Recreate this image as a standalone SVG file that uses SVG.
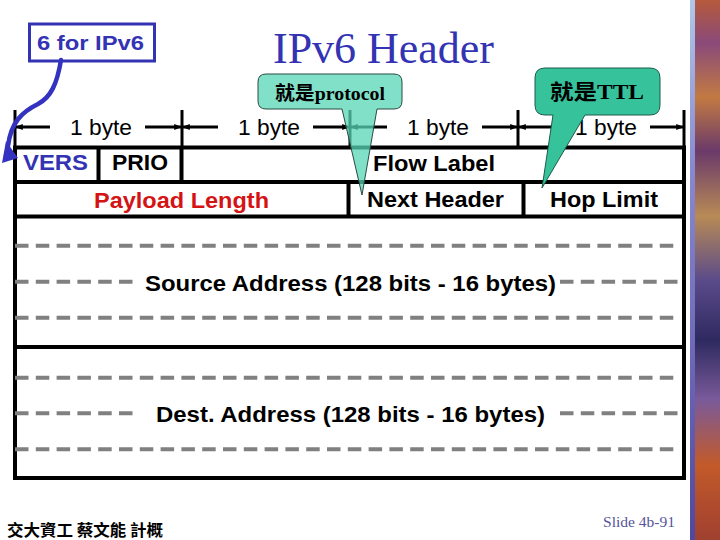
<svg xmlns="http://www.w3.org/2000/svg" width="720" height="540" viewBox="0 0 720 540">
<style>
.sans{font-family:"Liberation Sans",Arial,sans-serif}
.b{font-weight:bold}
.lbl{font-family:"Liberation Sans",Arial,sans-serif;font-weight:bold;font-size:22px;fill:#000}
.byte{font-family:"Liberation Sans",Arial,sans-serif;font-size:22px;fill:#000}
.cell{fill:none;stroke:#000;stroke-width:4}
.tick{stroke:#000;stroke-width:3;fill:none}
.meas{stroke:#000;stroke-width:3;fill:none;marker-end:url(#ah)}
.dash{stroke:#808080;stroke-width:4;stroke-dasharray:13.5 7.3;fill:none}
.cjk{font-family:"Liberation Serif","Noto Sans CJK TC",serif;font-weight:bold;fill:#000}
</style>
<defs>
<marker id="ah" viewBox="0 0 10 10" refX="10" refY="5" markerWidth="2.6" markerHeight="2.6" orient="auto">
<path d="M0,1 L10,5 L0,9 z" fill="#000"/>
</marker>
<linearGradient id="paint" x1="0" y1="0" x2="0" y2="1">
<stop offset="0" stop-color="#b55a3c"/>
<stop offset="0.08" stop-color="#8a4a7a"/>
<stop offset="0.18" stop-color="#c27a42"/>
<stop offset="0.28" stop-color="#6a3a6a"/>
<stop offset="0.4" stop-color="#b88a55"/>
<stop offset="0.52" stop-color="#5a4a8a"/>
<stop offset="0.63" stop-color="#2e2a60"/>
<stop offset="0.74" stop-color="#7a5a9a"/>
<stop offset="0.86" stop-color="#c25a2a"/>
<stop offset="1" stop-color="#a04030"/>
</linearGradient>
<linearGradient id="edge" x1="0" y1="0" x2="0" y2="1">
<stop offset="0" stop-color="#b0c8e8"/>
<stop offset="0.3" stop-color="#8a8ad0"/>
<stop offset="1" stop-color="#5048a0"/>
</linearGradient>
</defs>

<rect x="0" y="0" width="720" height="540" fill="#fff"/>

<g id="side-strip">
<rect x="695" y="0" width="25" height="540" fill="url(#paint)"/>
<rect x="690" y="0" width="5" height="540" fill="url(#edge)"/>
</g>

<g id="title">
<text x="273" y="63" font-family="Liberation Serif,Times New Roman,serif" font-size="45" fill="#3333b3" textLength="221" lengthAdjust="spacingAndGlyphs">IPv6 Header</text>
</g>

<g id="measure">
<line class="tick" x1="15" y1="110" x2="15" y2="147"/>
<line class="tick" x1="182" y1="110" x2="182" y2="147"/>
<line class="tick" x1="350" y1="110" x2="350" y2="147"/>
<line class="tick" x1="518" y1="110" x2="518" y2="147"/>
<line class="tick" x1="684" y1="110" x2="684" y2="147"/>
<path class="meas" d="M50,127 H15"/>
<path class="meas" d="M145,127 H182"/>
<path class="meas" d="M218,127 H182"/>
<path class="meas" d="M313,127 H350"/>
<path class="meas" d="M387,127 H350"/>
<path class="meas" d="M482,127 H518"/>
<path class="meas" d="M555,127 H518"/>
<path class="meas" d="M650,127 H684"/>
<text class="byte" x="70" y="135" textLength="62" lengthAdjust="spacingAndGlyphs">1 byte</text>
<text class="byte" x="238" y="135" textLength="62" lengthAdjust="spacingAndGlyphs">1 byte</text>
<text class="byte" x="407" y="135" textLength="62" lengthAdjust="spacingAndGlyphs">1 byte</text>
<text class="byte" x="575" y="135" textLength="62" lengthAdjust="spacingAndGlyphs">1 byte</text>
</g>

<g id="table">
<rect class="cell" x="15" y="147.5" width="669" height="330.5"/>
<line class="cell" x1="15" y1="182" x2="684" y2="182"/>
<line class="cell" x1="15" y1="216.5" x2="684" y2="216.5"/>
<line class="cell" x1="15" y1="347" x2="684" y2="347"/>
<line class="cell" x1="98.5" y1="147.5" x2="98.5" y2="182"/>
<line class="cell" x1="181.5" y1="147.5" x2="181.5" y2="182"/>
<line class="cell" x1="348.5" y1="182" x2="348.5" y2="216.5"/>
<line class="cell" x1="523.5" y1="182" x2="523.5" y2="216.5"/>
</g>

<g id="row1">
<text class="lbl" x="23" y="170" fill="#3333b3" style="fill:#3333b3" textLength="65" lengthAdjust="spacingAndGlyphs">VERS</text>
<text class="lbl" x="112" y="170" textLength="56" lengthAdjust="spacingAndGlyphs">PRIO</text>
<text class="lbl" x="373" y="171" textLength="122" lengthAdjust="spacingAndGlyphs">Flow Label</text>
</g>

<g id="row2">
<text class="lbl" x="94" y="208" style="fill:#d41414" textLength="175" lengthAdjust="spacingAndGlyphs">Payload Length</text>
<text class="lbl" x="367" y="207" textLength="137" lengthAdjust="spacingAndGlyphs">Next Header</text>
<text class="lbl" x="550" y="207" textLength="108" lengthAdjust="spacingAndGlyphs">Hop Limit</text>
</g>

<g id="source-address">
<line class="dash" x1="15" y1="245.7" x2="680" y2="245.7"/>
<line class="dash" x1="15" y1="281.7" x2="134" y2="281.7"/>
<line class="dash" x1="560" y1="281.7" x2="680" y2="281.7"/>
<line class="dash" x1="15" y1="317.7" x2="680" y2="317.7"/>
<text class="lbl" x="145" y="291" textLength="411" lengthAdjust="spacingAndGlyphs">Source Address (128 bits - 16 bytes)</text>
</g>

<g id="dest-address">
<line class="dash" x1="15" y1="377.7" x2="680" y2="377.7"/>
<line class="dash" x1="15" y1="413.3" x2="134" y2="413.3"/>
<line class="dash" x1="560" y1="413.3" x2="680" y2="413.3"/>
<line class="dash" x1="15" y1="449.3" x2="680" y2="449.3"/>
<text class="lbl" x="156" y="422" textLength="389" lengthAdjust="spacingAndGlyphs">Dest. Address (128 bits - 16 bytes)</text>
</g>

<g id="note-ipv6">
<rect x="29.5" y="24" width="125" height="37" fill="#fff" stroke="#3333b3" stroke-width="3"/>
<text class="sans b" x="37" y="50" font-size="21" fill="#3333b3" textLength="107" lengthAdjust="spacingAndGlyphs">6 for IPv6</text>
</g>

<g id="connectors">
<path d="M61,60 C57,84 51,97 38,104 C22,112 11,122 8,146" fill="none" stroke="#3333c0" stroke-width="4.5" stroke-linecap="round"/>
<polygon points="2,163 18,158 6,141" fill="#3333c0"/>
</g>

<g id="callout-protocol">
<path d="M266,74 H394 Q402,74 402,82 V101 Q402,109 394,109 H377 L362,195 L342,109 H266 Q258,109 258,101 V82 Q258,74 266,74 Z" fill="#55d5b5" fill-opacity="0.75" stroke="#2a4a40" stroke-width="1"/>
<text class="cjk" x="275" y="100" font-size="19" textLength="110" lengthAdjust="spacingAndGlyphs">就是protocol</text>
</g>

<g id="callout-ttl">
<path d="M545,68 H650 Q660,68 660,78 V105 Q660,115 650,115 H585 L542,188 L553,115 H545 Q535,115 535,105 V78 Q535,68 545,68 Z" fill="#36c39c" stroke="#1e5a48" stroke-width="1"/>
<text class="cjk" x="550" y="99" font-size="21" textLength="94" lengthAdjust="spacingAndGlyphs">就是TTL</text>
</g>

<g id="footer">
<text x="7" y="536" font-family="Noto Sans CJK TC,sans-serif" font-weight="bold" font-size="16" fill="#000" textLength="156" lengthAdjust="spacingAndGlyphs">交大資工 蔡文能 計概</text>
<text x="603" y="527" font-family="Liberation Serif,Times New Roman,serif" font-size="15" fill="#55559a" textLength="72" lengthAdjust="spacingAndGlyphs">Slide 4b-91</text>
</g>
</svg>
